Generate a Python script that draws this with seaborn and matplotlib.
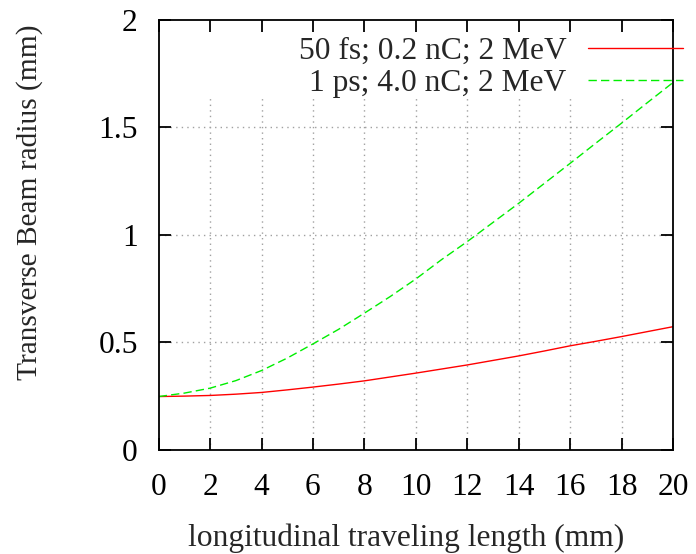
import numpy as np
import pandas as pd
import matplotlib
matplotlib.use("Agg")
import matplotlib.pyplot as plt
import seaborn as sns

# values (every 1 mm)
length_mm = [0, 1, 2, 3, 4, 5, 6, 7, 8, 9, 10, 11, 12, 13, 14, 15, 16, 17, 18, 19, 20]
radius_50fs = [0.248, 0.250, 0.253, 0.259, 0.267, 0.279, 0.292, 0.306, 0.321, 0.339, 0.357,
               0.376, 0.395, 0.416, 0.437, 0.460, 0.484, 0.505, 0.527, 0.550, 0.573]
radius_1ps = [0.248, 0.264, 0.287, 0.322, 0.369, 0.427, 0.493, 0.561, 0.636, 0.713, 0.795,
              0.885, 0.969, 1.058, 1.147, 1.240, 1.333, 1.427, 1.520, 1.615, 1.709]
labels = ["50 fs; 0.2 nC; 2 MeV", "1 ps; 4.0 nC; 2 MeV"]
xticks = [0, 2, 4, 6, 8, 10, 12, 14, 16, 18, 20]
yticks = [0, 0.5, 1, 1.5, 2]
ytick_labels = ["0", "0.5", "1", "1.5", "2"]

df = pd.DataFrame({
    "x": length_mm * 2,
    "r": radius_50fs + radius_1ps,
    "case": [labels[0]] * len(length_mm) + [labels[1]] * len(length_mm),
})

FS = 22.7
sns.set_style("ticks")
plt.rcParams["font.family"] = ["Liberation Serif", "DejaVu Serif"]
plt.rcParams["font.size"] = FS

fig = plt.figure(figsize=(6.96, 5.54), dpi=100)
ax = fig.add_axes([0.228, 0.188, 0.739, 0.776])

# gnuplot-like dotted grid, not drawn behind the key at the top
ax.vlines(xticks[1:-1], 0, 1.64, colors="#a0a0a0", linestyles=(0, (1, 3)), linewidth=1, zorder=0.5)
ax.hlines(yticks[1:-1], 0, 20, colors="#a0a0a0", linestyles=(0, (1, 3)), linewidth=1, zorder=0.5)

sns.lineplot(data=df, x="x", y="r", hue="case", style="case",
             palette=["#ff0000", "#00ee00"], dashes=["", (6, 3)],
             linewidth=1.0, ax=ax, legend=True)

ax.set_xlim(0, 20)
ax.set_ylim(0, 2)
ax.set_xticks(xticks)
ax.set_yticks(yticks)
ax.set_yticklabels(ytick_labels)
ax.tick_params(direction="in", length=8.5, width=1.3, top=True, right=True,
               labelsize=FS, colors="black")
ax.tick_params(axis="x", pad=17)
ax.tick_params(axis="y", pad=15)
for s in ax.spines.values():
    s.set_linewidth(1.3)
    s.set_color("black")

ax.set_xlabel("longitudinal traveling length (mm)", fontsize=FS)
ax.set_ylabel("Transverse Beam radius (mm)", fontsize=21.2)
ax.xaxis.set_label_coords(0.481, -0.172)
ax.yaxis.set_label_coords(-0.224, 0.576)

leg = ax.legend(loc="upper right", bbox_to_anchor=(683 / 696, 1 - 37 / 554),
                bbox_transform=fig.transFigure, markerfirst=False,
                frameon=False, handlelength=3.0, handletextpad=0.7,
                labelspacing=0.08, borderaxespad=0, borderpad=0, fontsize=FS)
for line in leg.get_lines():
    line.set_linewidth(1.0)

fig.savefig("out.png", dpi=100)
